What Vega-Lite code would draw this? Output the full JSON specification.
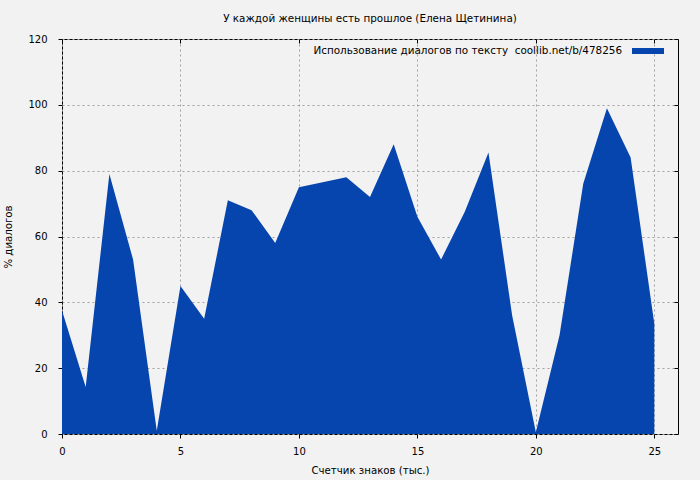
{
  "$schema": "https://vega.github.io/schema/vega-lite/v6.json",
  "width": 616,
  "height": 395,
  "autosize": "none",
  "padding": {"left": 62, "top": 39, "right": 22, "bottom": 46},
  "background": "#f2f2f2",
  "title": {
    "text": "У каждой женщины есть прошлое (Елена Щетинина)",
    "font": "DejaVu Sans",
    "fontSize": 10.4,
    "fontWeight": "normal",
    "color": "black",
    "anchor": "middle",
    "offset": 10
  },
  "config": {
    "font": "DejaVu Sans",
    "view": {"stroke": "black", "strokeWidth": 1, "fill": "#f2f2f2"},
    "axis": {
      "labelFont": "DejaVu Sans",
      "labelFontSize": 10,
      "labelColor": "black",
      "titleFont": "DejaVu Sans",
      "titleFontSize": 10.2,
      "titleFontWeight": "normal",
      "titleColor": "black",
      "tickColor": "black",
      "tickSize": 4,
      "domain": false,
      "gridColor": "#a0a0a0",
      "gridDash": [2, 3],
      "gridWidth": 1,
      "gridOpacity": 1
    }
  },
  "data": {
    "values": [
      {"k": 0, "pct": 37.5},
      {"k": 1, "pct": 14.3},
      {"k": 2, "pct": 79},
      {"k": 3, "pct": 53},
      {"k": 4, "pct": 1},
      {"k": 5, "pct": 45},
      {"k": 6, "pct": 35},
      {"k": 7, "pct": 71},
      {"k": 8, "pct": 68},
      {"k": 9, "pct": 58},
      {"k": 10, "pct": 75},
      {"k": 11, "pct": 76.5},
      {"k": 12, "pct": 78},
      {"k": 13, "pct": 72},
      {"k": 14, "pct": 88},
      {"k": 15, "pct": 66},
      {"k": 16, "pct": 53},
      {"k": 17, "pct": 67.5},
      {"k": 18, "pct": 85.5},
      {"k": 19, "pct": 36},
      {"k": 20, "pct": 0.5},
      {"k": 21, "pct": 30},
      {"k": 22, "pct": 76},
      {"k": 23, "pct": 99},
      {"k": 24, "pct": 84},
      {"k": 25, "pct": 33.5}
    ]
  },
  "layer": [
    {
      "mark": {"type": "area", "interpolate": "linear", "opacity": 1},
      "encoding": {
        "x": {
          "field": "k",
          "type": "quantitative",
          "scale": {"domain": [0, 26], "nice": false, "zero": false},
          "axis": {
            "orient": "bottom",
            "values": [0, 5, 10, 15, 20, 25],
            "grid": true,
            "labelPadding": 8,
            "labelFlush": false,
            "title": "Счетчик знаков (тыс.)",
            "titlePadding": 9
          }
        },
        "y": {
          "field": "pct",
          "type": "quantitative",
          "scale": {"domain": [0, 120], "nice": false},
          "axis": {
            "orient": "left",
            "values": [0, 20, 40, 60, 80, 100, 120],
            "grid": true,
            "labelPadding": 11,
            "labelFlush": false,
            "title": "% диалогов",
            "titlePadding": 14
          }
        },
        "color": {
          "datum": "Использование диалогов по тексту\u00a0 coollib.net/b/478256",
          "scale": {"range": ["#0645ad"]},
          "legend": {
            "orient": "none",
            "legendX": 570,
            "legendY": -4,
            "title": null,
            "padding": 0,
            "symbolType": "M-1,-0.1875H1V0.1875H-1Z",
            "symbolSize": 1024,
            "symbolStrokeWidth": 0,
            "symbolOpacity": 1,
            "symbolFillColor": "#0645ad",
            "labelAlign": "right",
            "labelOffset": -42,
            "labelFont": "DejaVu Sans",
            "labelFontSize": 10.4,
            "labelColor": "black",
            "labelLimit": 0
          }
        }
      }
    },
    {
      "mark": {"type": "point", "opacity": 0},
      "encoding": {
        "x": {
          "field": "k",
          "type": "quantitative",
          "axis": {
            "orient": "top",
            "values": [0, 5, 10, 15, 20, 25],
            "grid": false,
            "labels": false,
            "tickSize": -4,
            "title": null
          }
        },
        "y": {
          "field": "pct",
          "type": "quantitative",
          "axis": {
            "orient": "right",
            "values": [0, 20, 40, 60, 80, 100, 120],
            "grid": false,
            "labels": false,
            "tickSize": -4,
            "title": null
          }
        }
      }
    }
  ],
  "resolve": {"axis": {"x": "independent", "y": "independent"}}
}
